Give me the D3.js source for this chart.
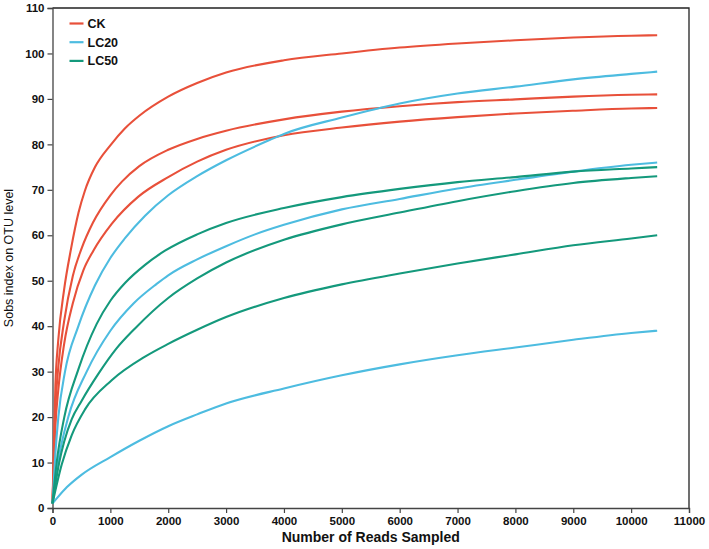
<!DOCTYPE html>
<html><head><meta charset="utf-8">
<script src="https://cdn.jsdelivr.net/npm/d3@7/dist/d3.min.js"></script>
<style>body{margin:0;background:#fff}svg text{font-family:"Liberation Sans",Arial,sans-serif}</style>
</head><body>
<svg id="c" width="709" height="549"></svg>
<script>
const groups = ["CK", "LC20", "LC50"];
const groupColors = ["#E8503A", "#4DBCE0", "#14997C"];
const xTicks = [0,1000,2000,3000,4000,5000,6000,7000,8000,9000,10000,11000];
const yTicks = [0,10,20,30,40,50,60,70,80,90,100,110];

// each sample: [reads sampled, observed OTUs]
const ck1 = [[0,1],[50,27],[100,37],[200,48],[320,57],[450,65],[560,69.8],[735,75],[1000,79.8],[1250,83.5],[1500,86.3],[2000,90.5],[2500,93.5],[3000,95.8],[4000,98.5],[5000,100.0],[6000,101.3],[7000,102.2],[8000,102.9],[9000,103.5],[10000,103.9],[10450,104.0]];
const ck2 = [[0,1],[50,22],[100,31],[200,41],[350,51],[500,57],[700,62.8],[1000,68.8],[1200,71.8],[1500,75.2],[2000,78.8],[2500,81.2],[3000,83],[4000,85.5],[5000,87.2],[6000,88.4],[7000,89.3],[8000,89.9],[9000,90.5],[10000,90.9],[10450,91]];
const ck3 = [[0,1],[50,18],[100,26],[200,36],[350,45],[533,52.3],[706,56.6],[1023,62.5],[1484,68.5],[2000,72.8],[2500,76.2],[3000,78.8],[4000,82],[5000,83.7],[6000,85],[7000,86],[8000,86.8],[9000,87.4],[10000,87.9],[10450,88]];
const lc20a = [[0,1],[50,12],[101,20],[216,30],[447,40],[735,49],[1000,55],[1250,59.3],[1600,64.3],[2000,68.8],[2500,73],[3000,76.5],[3760,81],[4000,82.3],[5000,85.9],[6000,89],[7000,91.2],[8000,92.7],[9000,94.3],[10000,95.5],[10450,96]];
const lc20b = [[0,1],[95,10],[273,20],[591,30],[1000,39],[1400,45],[1800,49.3],[2000,51.2],[2500,54.7],[3000,57.6],[3500,60.2],[4000,62.3],[5000,65.7],[6000,68],[7000,70.3],[8000,72.2],[9000,74],[10000,75.5],[10450,76]];
const lc20c = [[0,1],[100,2.5],[250,4.6],[500,7.3],[1000,11.2],[1500,14.8],[2000,18.0],[2500,20.6],[3000,23.0],[4000,26.3],[5000,29.2],[6000,31.6],[7000,33.6],[8000,35.3],[9000,37],[10000,38.5],[10450,39]];
const lc50a = [[0,1],[72,10],[204,20],[447,30.5],[764,40.5],[1000,45.6],[1253,49.5],[1600,53.5],[1944,56.6],[2500,60.2],[3000,62.7],[4000,66],[5000,68.4],[6000,70.2],[7000,71.7],[8000,72.8],[9000,74],[10000,74.7],[10450,75]];
const lc50b = [[0,1],[116,10],[200,14.5],[331,19.5],[500,23.5],[792,29.5],[1100,35],[1426,39.5],[2000,46.2],[2500,50.5],[3000,54],[4000,59],[5000,62.4],[6000,65],[7000,67.5],[8000,69.7],[9000,71.5],[10000,72.6],[10450,73]];
const lc50c = [[0,1],[158,9.5],[331,16],[562,21.7],[1023,28.1],[1599,33.3],[2000,36.1],[2500,39.2],[3000,42],[4000,46.2],[5000,49.2],[6000,51.6],[7000,53.8],[8000,55.8],[9000,57.8],[10000,59.3],[10450,60]];

const samples = [
  {g:0,d:ck1},{g:0,d:ck2},{g:0,d:ck3},
  {g:1,d:lc20a},{g:1,d:lc20b},{g:1,d:lc20c},
  {g:2,d:lc50a},{g:2,d:lc50b},{g:2,d:lc50c}
];

const svg = d3.select("#c");
const L=52.5, R=689, T=8, B=508;
const x = d3.scaleLinear().domain([0,11000]).range([L,R]);
const y = d3.scaleLinear().domain([0,110]).range([B,T]);

svg.append("path").attr("d",`M${L},${T}H${R}V${B}`).attr("fill","none").attr("stroke","#222").attr("stroke-width",1.3);

const xa = svg.append("g").attr("transform",`translate(0,${B})`)
  .call(d3.axisBottom(x).tickValues(xTicks).tickFormat(d3.format("d")).tickSizeOuter(0).tickSize(5).tickPadding(4));
const ya = svg.append("g").attr("transform",`translate(${L},0)`)
  .call(d3.axisLeft(y).tickValues(yTicks).tickSizeOuter(0).tickSize(5).tickPadding(3));
[xa,ya].forEach(a=>{
  a.selectAll("path").attr("stroke","#444").attr("stroke-width",1.3);
  a.selectAll("line").attr("stroke","#444").attr("stroke-width",1.2);
  a.selectAll("text").attr("font-size",11.5).attr("font-weight","bold").attr("fill","#111").style("font-family","'Liberation Sans',Arial,sans-serif");
});

const line = d3.line().x(d=>x(d[0])).y(d=>y(d[1])).curve(d3.curveMonotoneX);
svg.append("g").selectAll("path").data(samples).join("path")
  .attr("d",s=>line(s.d)).attr("fill","none")
  .attr("stroke",s=>groupColors[s.g]).attr("stroke-width",2.1);

const lg = svg.append("g");
groups.forEach((g,i)=>{
  const yy = 23.5 + i*18.7;
  lg.append("line").attr("x1",69.5).attr("x2",83.5).attr("y1",yy).attr("y2",yy)
    .attr("stroke",groupColors[i]).attr("stroke-width",2.2);
  lg.append("text").attr("x",87.5).attr("y",yy+4.5).text(g)
    .attr("font-size",12.5).attr("font-weight","bold").attr("fill","#111");
});

svg.append("text").attr("x",(L+R)/2).attr("y",542).attr("text-anchor","middle")
  .attr("font-size",14).attr("font-weight","bold").attr("fill","#111").text("Number of Reads Sampled");
svg.append("text").attr("transform",`translate(13,${(T+B)/2}) rotate(-90)`).attr("text-anchor","middle")
  .attr("font-size",12.5).attr("fill","#111").text("Sobs index on OTU level");
</script>
</body></html>
